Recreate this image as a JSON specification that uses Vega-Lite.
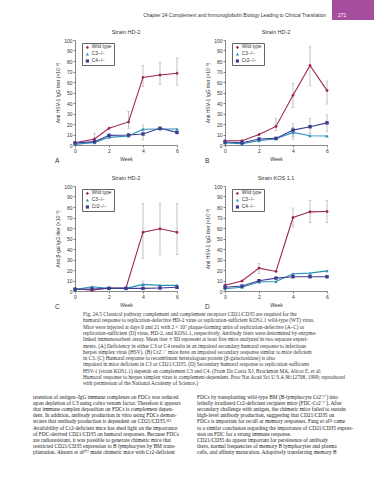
{
  "$schema": "https://vega.github.io/schema/vega-lite/v6.json",
  "padding": {"left": 33, "top": 0, "right": 0, "bottom": 0},
  "background": "white",
  "bounds": "flush",
  "spacing": 40,
  "resolve": {"scale": {"color": "independent", "shape": "independent"}, "legend": {"color": "independent", "shape": "independent"}},
  "config": {
    "view": {"stroke": null},
    "font": "Liberation Sans",
    "title": {"fontWeight": "normal", "color": "#222"},
    "axis": {"labelFontSize": 5, "titleFontSize": 5, "titleFontWeight": "normal", "tickSize": 2, "labelPadding": 1, "titlePadding": 3, "domainColor": "#555", "tickColor": "#555", "labelColor": "#333", "titleColor": "#333", "grid": false, "domainWidth": 0.7, "tickWidth": 0.7, "labelOverlap": false, "labelFlush": false, "labelBound": false},
    "legend": {"labelFontSize": 4.8, "labelColor": "#333", "symbolSize": 10, "rowPadding": 0.8, "padding": 2, "strokeColor": "#666", "fillColor": "white", "symbolStrokeWidth": 0, "labelOffset": 2, "symbolOffset": 1}
  },
  "datasets": {
    "A": [
      {"w": 0, "g": "Wild type", "v": 2.2},
      {"w": 1.15, "g": "Wild type", "v": 5.7, "lo": 1, "hi": 11},
      {"w": 2, "g": "Wild type", "v": 15.9},
      {"w": 3.15, "g": "Wild type", "v": 22, "lo": 16, "hi": 32},
      {"w": 4, "g": "Wild type", "v": 64.4, "lo": 55.5, "hi": 75.5},
      {"w": 5, "g": "Wild type", "v": 66.7, "lo": 57.8, "hi": 78.7},
      {"w": 6, "g": "Wild type", "v": 68.3, "lo": 57, "hi": 83},
      {"w": 0, "g": "C3−/−", "v": 0.6},
      {"w": 1.15, "g": "C3−/−", "v": 2.5},
      {"w": 2, "g": "C3−/−", "v": 7.3},
      {"w": 3.15, "g": "C3−/−", "v": 8.6},
      {"w": 4, "g": "C3−/−", "v": 15},
      {"w": 5, "g": "C3−/−", "v": 15.2},
      {"w": 6, "g": "C3−/−", "v": 15.2},
      {"w": 0, "g": "C4−/−", "v": 1.9},
      {"w": 1.15, "g": "C4−/−", "v": 3.2},
      {"w": 2, "g": "C4−/−", "v": 9.2},
      {"w": 3.15, "g": "C4−/−", "v": 9.5},
      {"w": 4, "g": "C4−/−", "v": 10.5, "lo": 4.8, "hi": 19},
      {"w": 5, "g": "C4−/−", "v": 15.9},
      {"w": 6, "g": "C4−/−", "v": 12}
    ],
    "B": [
      {"w": 0, "g": "Wild type", "v": 4.1},
      {"w": 1, "g": "Wild type", "v": 4.1},
      {"w": 2, "g": "Wild type", "v": 10.1},
      {"w": 3, "g": "Wild type", "v": 17.7, "lo": 14, "hi": 25},
      {"w": 4, "g": "Wild type", "v": 47.3, "lo": 35.5, "hi": 58.4},
      {"w": 5, "g": "Wild type", "v": 75.7, "lo": 56.8, "hi": 93.5},
      {"w": 6, "g": "Wild type", "v": 52, "lo": 39, "hi": 61},
      {"w": 0, "g": "C3−/−", "v": 1.9},
      {"w": 1, "g": "C3−/−", "v": 1.3},
      {"w": 2, "g": "C3−/−", "v": 4.1},
      {"w": 3, "g": "C3−/−", "v": 6},
      {"w": 4, "g": "C3−/−", "v": 12, "lo": 5.5, "hi": 17},
      {"w": 5, "g": "C3−/−", "v": 8.8},
      {"w": 6, "g": "C3−/−", "v": 8.5},
      {"w": 0, "g": "Cr2−/−", "v": 2.8},
      {"w": 1, "g": "Cr2−/−", "v": 2.2},
      {"w": 2, "g": "Cr2−/−", "v": 5.7},
      {"w": 3, "g": "Cr2−/−", "v": 6.3},
      {"w": 4, "g": "Cr2−/−", "v": 14.2, "lo": 8, "hi": 20.5},
      {"w": 5, "g": "Cr2−/−", "v": 17.4, "lo": 11, "hi": 25},
      {"w": 6, "g": "Cr2−/−", "v": 21.1, "lo": 12.6, "hi": 29}
    ],
    "C": [
      {"w": 0, "g": "Wild type", "v": 2.2},
      {"w": 1, "g": "Wild type", "v": 0.8},
      {"w": 2, "g": "Wild type", "v": 2.9},
      {"w": 3, "g": "Wild type", "v": 2.9},
      {"w": 4, "g": "Wild type", "v": 56, "lo": 30.7, "hi": 83.6},
      {"w": 5, "g": "Wild type", "v": 59.3, "lo": 34.5, "hi": 83.6},
      {"w": 6, "g": "Wild type", "v": 56, "lo": 34.5, "hi": 83.6},
      {"w": 0, "g": "C3−/−", "v": 1.3},
      {"w": 1, "g": "C3−/−", "v": 4.1},
      {"w": 2, "g": "C3−/−", "v": 2.5},
      {"w": 3, "g": "C3−/−", "v": 2.5},
      {"w": 4, "g": "C3−/−", "v": 6.3, "lo": 3, "hi": 9.5},
      {"w": 5, "g": "C3−/−", "v": 5.4},
      {"w": 6, "g": "C3−/−", "v": 5.4},
      {"w": 0, "g": "Cr2−/−", "v": 1.6},
      {"w": 1, "g": "Cr2−/−", "v": 1.9},
      {"w": 2, "g": "Cr2−/−", "v": 2.5},
      {"w": 3, "g": "Cr2−/−", "v": 2.5},
      {"w": 4, "g": "Cr2−/−", "v": 2.5},
      {"w": 5, "g": "Cr2−/−", "v": 2.9},
      {"w": 6, "g": "Cr2−/−", "v": 3.5}
    ],
    "D": [
      {"w": 0, "g": "Wild type", "v": 5.4},
      {"w": 1, "g": "Wild type", "v": 9.5},
      {"w": 2, "g": "Wild type", "v": 21.8, "lo": 16.4, "hi": 26},
      {"w": 3, "g": "Wild type", "v": 18.6},
      {"w": 4, "g": "Wild type", "v": 70, "lo": 61, "hi": 79},
      {"w": 5, "g": "Wild type", "v": 75.4, "lo": 65, "hi": 86},
      {"w": 6, "g": "Wild type", "v": 75.7, "lo": 65, "hi": 86},
      {"w": 0, "g": "C3−/−", "v": 2.2},
      {"w": 1, "g": "C3−/−", "v": 3.5},
      {"w": 2, "g": "C3−/−", "v": 8.5},
      {"w": 3, "g": "C3−/−", "v": 9.1},
      {"w": 4, "g": "C3−/−", "v": 16.4},
      {"w": 5, "g": "C3−/−", "v": 17},
      {"w": 6, "g": "C3−/−", "v": 19.2},
      {"w": 0, "g": "C4−/−", "v": 3.5},
      {"w": 1, "g": "C4−/−", "v": 4.7},
      {"w": 2, "g": "C4−/−", "v": 9.8},
      {"w": 3, "g": "C4−/−", "v": 12.3},
      {"w": 4, "g": "C4−/−", "v": 13.6},
      {"w": 5, "g": "C4−/−", "v": 13.6},
      {"w": 6, "g": "C4−/−", "v": 13.6}
    ]
  },
  "vconcat": [
    {
      "hconcat": [
        {
          "width": 257, "height": 40,
          "data": {"values": [{}]},
          "mark": {"type": "text", "text": ""},
          "title": {"text": "Chapter 24   Complement and Immunoglobulin Biology Leading to Clinical Translation", "orient": "top", "anchor": "end", "frame": "group", "baseline": "alphabetic", "offset": 0, "dy": 22, "dx": -6, "fontSize": 4.9, "color": "#333", "font": "Liberation Sans"}
        },
        {
          "width": 42, "height": 20,
          "view": {"fill": "#a64d9e", "stroke": null},
          "data": {"values": [{}]},
          "mark": {"type": "text", "text": ""},
          "title": {"text": "271", "orient": "top", "anchor": "start", "frame": "group", "baseline": "alphabetic", "offset": 0, "dy": 22, "dx": 6, "fontSize": 5, "color": "white", "font": "Liberation Sans"}
        }
      ],
      "spacing": 0,
      "bounds": "flush"
    },
    {
      "vconcat": [
        {
          "hconcat": [
            {
              "title": {"text": "A", "orient": "bottom", "anchor": "start", "frame": "group", "dx": -20, "dy": -7, "fontSize": 6.5, "color": "#333"},
              "vconcat": [
                {
                  "width": 102, "height": 105,
                  "title": {"text": "Strain HD-2", "fontSize": 5.5, "anchor": "middle", "offset": 3, "color": "#333"},
                  "data": {"name": "A"},
                  "encoding": {
                    "x": {"field": "w", "type": "quantitative", "scale": {"domain": [0, 6], "nice": false}, "axis": {"values": [0, 2, 4, 6], "title": "Week"}}
                  },
                  "layer": [
                    {"transform": [{"filter": "datum.lo != null"}], "mark": {"type": "errorbar", "color": "#999", "thickness": 0.6, "ticks": {"size": 3, "color": "#999"}}, "encoding": {"y": {"field": "lo", "type": "quantitative", "scale": {"domain": [0, 100], "nice": false}, "axis": {"values": [0, 10, 20, 30, 40, 50, 60, 70, 80, 90, 100], "labelOverlap": false, "tickCount": 11}, "title": "Anti HSV-1 IgG titer (×10⁻³)"}, "y2": {"field": "hi"}}},
                    {"mark": {"type": "line", "strokeWidth": 1.1}, "encoding": {"y": {"field": "v", "type": "quantitative", "scale": {"domain": [0, 100], "nice": false}, "axis": {"values": [0, 10, 20, 30, 40, 50, 60, 70, 80, 90, 100], "labelOverlap": false, "tickCount": 11}, "title": "Anti HSV-1 IgG titer (×10⁻³)"}, "color": {"field": "g", "type": "nominal", "title": null, "scale": {"domain": ["Wild type", "C3−/−", "C4−/−"], "range": ["#9b2457", "#2a8fb8", "#3c3d8f"]}, "legend": {"orient": "none", "legendX": 7, "legendY": 3}}}},
                    {"mark": {"type": "point", "filled": true, "size": 12, "opacity": 1}, "encoding": {"y": {"field": "v", "type": "quantitative", "axis": {"values": [0, 10, 20, 30, 40, 50, 60, 70, 80, 90, 100], "labelOverlap": false, "tickCount": 11}, "title": "Anti HSV-1 IgG titer (×10⁻³)"}, "color": {"field": "g", "type": "nominal", "title": null, "scale": {"domain": ["Wild type", "C3−/−", "C4−/−"], "range": ["#9b2457", "#2a8fb8", "#3c3d8f"]}, "legend": {"orient": "none", "legendX": 7, "legendY": 3}}, "shape": {"field": "g", "type": "nominal", "title": null, "scale": {"domain": ["Wild type", "C3−/−", "C4−/−"], "range": ["diamond", "triangle-up", "square"]}, "legend": {"orient": "none", "legendX": 7, "legendY": 3}}}}
                  ]
                }
              ]
            },
            {
              "title": {"text": "B", "orient": "bottom", "anchor": "start", "frame": "group", "dx": -20, "dy": -7, "fontSize": 6.5, "color": "#333"},
              "vconcat": [
                {
                  "width": 102, "height": 105,
                  "title": {"text": "Strain HD-2", "fontSize": 5.5, "anchor": "middle", "offset": 3, "color": "#333"},
                  "data": {"name": "B"},
                  "encoding": {
                    "x": {"field": "w", "type": "quantitative", "scale": {"domain": [0, 6], "nice": false}, "axis": {"values": [0, 2, 4, 6], "title": "Week"}}
                  },
                  "layer": [
                    {"transform": [{"filter": "datum.lo != null"}], "mark": {"type": "errorbar", "color": "#999", "thickness": 0.6, "ticks": {"size": 3, "color": "#999"}}, "encoding": {"y": {"field": "lo", "type": "quantitative", "scale": {"domain": [0, 100], "nice": false}, "axis": {"values": [0, 10, 20, 30, 40, 50, 60, 70, 80, 90, 100], "labelOverlap": false, "tickCount": 11}, "title": "Anti HSV-1 IgG titer (×10⁻³)"}, "y2": {"field": "hi"}}},
                    {"mark": {"type": "line", "strokeWidth": 1.1}, "encoding": {"y": {"field": "v", "type": "quantitative", "scale": {"domain": [0, 100], "nice": false}, "axis": {"values": [0, 10, 20, 30, 40, 50, 60, 70, 80, 90, 100], "labelOverlap": false, "tickCount": 11}, "title": "Anti HSV-1 IgG titer (×10⁻³)"}, "color": {"field": "g", "type": "nominal", "title": null, "scale": {"domain": ["Wild type", "C3−/−", "Cr2−/−"], "range": ["#9b2457", "#2a8fb8", "#3c3d8f"]}, "legend": {"orient": "none", "legendX": 7, "legendY": 3}}}},
                    {"mark": {"type": "point", "filled": true, "size": 12, "opacity": 1}, "encoding": {"y": {"field": "v", "type": "quantitative", "axis": {"values": [0, 10, 20, 30, 40, 50, 60, 70, 80, 90, 100], "labelOverlap": false, "tickCount": 11}, "title": "Anti HSV-1 IgG titer (×10⁻³)"}, "color": {"field": "g", "type": "nominal", "title": null, "scale": {"domain": ["Wild type", "C3−/−", "Cr2−/−"], "range": ["#9b2457", "#2a8fb8", "#3c3d8f"]}, "legend": {"orient": "none", "legendX": 7, "legendY": 3}}, "shape": {"field": "g", "type": "nominal", "title": null, "scale": {"domain": ["Wild type", "C3−/−", "Cr2−/−"], "range": ["diamond", "triangle-up", "square"]}, "legend": {"orient": "none", "legendX": 7, "legendY": 3}}}}
                  ]
                }
              ]
            }
          ],
          "spacing": 150,
          "bounds": "flush",
          "resolve": {"scale": {"color": "independent", "shape": "independent"}, "legend": {"color": "independent", "shape": "independent"}}
        },
        {
          "hconcat": [
            {
              "title": {"text": "C", "orient": "bottom", "anchor": "start", "frame": "group", "dx": -20, "dy": -7, "fontSize": 6.5, "color": "#333"},
              "vconcat": [
                {
                  "width": 102, "height": 105,
                  "title": {"text": "Strain HD-2", "fontSize": 5.5, "anchor": "middle", "offset": 3, "color": "#333"},
                  "data": {"name": "C"},
                  "encoding": {
                    "x": {"field": "w", "type": "quantitative", "scale": {"domain": [0, 6], "nice": false}, "axis": {"values": [0, 2, 4, 6], "title": "Week"}}
                  },
                  "layer": [
                    {"transform": [{"filter": "datum.lo != null"}], "mark": {"type": "errorbar", "color": "#999", "thickness": 0.6, "ticks": {"size": 3, "color": "#999"}}, "encoding": {"y": {"field": "lo", "type": "quantitative", "scale": {"domain": [0, 100], "nice": false}, "axis": {"values": [0, 10, 20, 30, 40, 50, 60, 70, 80, 90, 100], "labelOverlap": false, "tickCount": 11}, "title": "Anti β-gal IgG titer (×10⁻³)"}, "y2": {"field": "hi"}}},
                    {"mark": {"type": "line", "strokeWidth": 1.1}, "encoding": {"y": {"field": "v", "type": "quantitative", "scale": {"domain": [0, 100], "nice": false}, "axis": {"values": [0, 10, 20, 30, 40, 50, 60, 70, 80, 90, 100], "labelOverlap": false, "tickCount": 11}, "title": "Anti β-gal IgG titer (×10⁻³)"}, "color": {"field": "g", "type": "nominal", "title": null, "scale": {"domain": ["Wild type", "C3−/−", "Cr2−/−"], "range": ["#9b2457", "#2a8fb8", "#3c3d8f"]}, "legend": {"orient": "none", "legendX": 7, "legendY": 3}}}},
                    {"mark": {"type": "point", "filled": true, "size": 12, "opacity": 1}, "encoding": {"y": {"field": "v", "type": "quantitative", "axis": {"values": [0, 10, 20, 30, 40, 50, 60, 70, 80, 90, 100], "labelOverlap": false, "tickCount": 11}, "title": "Anti β-gal IgG titer (×10⁻³)"}, "color": {"field": "g", "type": "nominal", "title": null, "scale": {"domain": ["Wild type", "C3−/−", "Cr2−/−"], "range": ["#9b2457", "#2a8fb8", "#3c3d8f"]}, "legend": {"orient": "none", "legendX": 7, "legendY": 3}}, "shape": {"field": "g", "type": "nominal", "title": null, "scale": {"domain": ["Wild type", "C3−/−", "Cr2−/−"], "range": ["diamond", "triangle-up", "square"]}, "legend": {"orient": "none", "legendX": 7, "legendY": 3}}}}
                  ]
                }
              ]
            },
            {
              "title": {"text": "D", "orient": "bottom", "anchor": "start", "frame": "group", "dx": -20, "dy": -7, "fontSize": 6.5, "color": "#333"},
              "vconcat": [
                {
                  "width": 102, "height": 105,
                  "title": {"text": "Strain KOS 1.1", "fontSize": 5.5, "anchor": "middle", "offset": 3, "color": "#333"},
                  "data": {"name": "D"},
                  "encoding": {
                    "x": {"field": "w", "type": "quantitative", "scale": {"domain": [0, 6], "nice": false}, "axis": {"values": [0, 2, 4, 6], "title": "Week"}}
                  },
                  "layer": [
                    {"transform": [{"filter": "datum.lo != null"}], "mark": {"type": "errorbar", "color": "#999", "thickness": 0.6, "ticks": {"size": 3, "color": "#999"}}, "encoding": {"y": {"field": "lo", "type": "quantitative", "scale": {"domain": [0, 100], "nice": false}, "axis": {"values": [0, 10, 20, 30, 40, 50, 60, 70, 80, 90, 100], "labelOverlap": false, "tickCount": 11}, "title": "Anti HSV-1 IgG titer (×10⁻³)"}, "y2": {"field": "hi"}}},
                    {"mark": {"type": "line", "strokeWidth": 1.1}, "encoding": {"y": {"field": "v", "type": "quantitative", "scale": {"domain": [0, 100], "nice": false}, "axis": {"values": [0, 10, 20, 30, 40, 50, 60, 70, 80, 90, 100], "labelOverlap": false, "tickCount": 11}, "title": "Anti HSV-1 IgG titer (×10⁻³)"}, "color": {"field": "g", "type": "nominal", "title": null, "scale": {"domain": ["Wild type", "C3−/−", "C4−/−"], "range": ["#9b2457", "#2a8fb8", "#3c3d8f"]}, "legend": {"orient": "none", "legendX": 7, "legendY": 3}}}},
                    {"mark": {"type": "point", "filled": true, "size": 12, "opacity": 1}, "encoding": {"y": {"field": "v", "type": "quantitative", "axis": {"values": [0, 10, 20, 30, 40, 50, 60, 70, 80, 90, 100], "labelOverlap": false, "tickCount": 11}, "title": "Anti HSV-1 IgG titer (×10⁻³)"}, "color": {"field": "g", "type": "nominal", "title": null, "scale": {"domain": ["Wild type", "C3−/−", "C4−/−"], "range": ["#9b2457", "#2a8fb8", "#3c3d8f"]}, "legend": {"orient": "none", "legendX": 7, "legendY": 3}}, "shape": {"field": "g", "type": "nominal", "title": null, "scale": {"domain": ["Wild type", "C3−/−", "C4−/−"], "range": ["diamond", "triangle-up", "square"]}, "legend": {"orient": "none", "legendX": 7, "legendY": 3}}}}
                  ]
                }
              ]
            }
          ],
          "spacing": 150,
          "bounds": "flush",
          "resolve": {"scale": {"color": "independent", "shape": "independent"}, "legend": {"color": "independent", "shape": "independent"}}
        }
      ],
      "spacing": 146,
      "bounds": "flush",
      "resolve": {"scale": {"color": "independent", "shape": "independent"}, "legend": {"color": "independent", "shape": "independent"}}
    },
    {
      "width": 270, "height": 231,
      "data": {"values": [{}]},
      "mark": {"type": "text", "text": ""},
      "title": {
        "text": [
          "Fig. 24.5  Classical pathway complement and complement receptors CD21/CD35 are required for the",
          "humoral response to replication-defective HD-2 virus or replication-sufficient KOS1.1 wild-type (WT) virus.",
          "Mice were injected at days 0 and 21 with 2 × 10⁷ plaque-forming units of replication-defective (A–C) or",
          "replication-sufficient (D) virus, HD-2, and KOS1.1, respectively. Antibody titers were determined by enzyme-",
          "linked immunosorbent assay. Mean titer ± SD represent at least five mice analyzed in two separate experi-",
          "ments. (A) Deficiency in either C3 or C4 results in an impaired secondary humoral response to infectious",
          "herpes simplex virus (HSV). (B) Cr2⁻/⁻ mice have an impaired secondary response similar to mice deficient",
          "in C3. (C) Humoral response to recombinant heterologous protein (β-galactosidase) is also",
          "impaired in mice deficient in C3 or CD21/CD35. (D) Secondary humoral response to replication-sufficient",
          "HSV-1 (strain KOS1.1) depends on complement C3 and C4. (From Da Costa XJ, Brockman MA, Alicot E, et al:",
          "Humoral response to herpes simplex virus is complement-dependent. Proc Nat Acad Sci U S A 96:12708, 1999; reproduced",
          "with permission of the National Academy of Science.)"
        ],
        "orient": "bottom", "anchor": "start", "frame": "group", "baseline": "top", "offset": 1, "dx": 8,
        "fontSize": 5.3, "lineHeight": 6.3, "font": "Liberation Serif", "color": "#333"
      }
    },
    {
      "hconcat": [
        {
          "width": 122, "height": 44,
          "data": {"values": [{}]},
          "mark": {"type": "text", "text": ""},
          "title": {
            "text": [
              "retention of antigen–IgG immune complexes on FDCs was reduced",
              "upon depletion of C3 using cobra venom factor. Therefore it appears",
              "that immune complex deposition on FDCs is complement depen-",
              "dent. In addition, antibody production in vitro using FDCs demon-",
              "strates that antibody production is dependent on CD21/CD35.¹¹³",
              "   Availability of Cr2-deficient mice has shed light on the importance",
              "of FDC-derived CD21/CD35 on humoral responses. Because FDCs",
              "are radioresistant, it was possible to generate chimeric mice that",
              "restricted CD21/CD35 expression to B lymphocytes by BM trans-",
              "plantation. Ahearn et al¹⁰⁷ made chimeric mice with Cr2-deficient"
            ],
            "orient": "bottom", "anchor": "start", "frame": "group", "baseline": "top", "offset": 0, "dx": -42,
            "fontSize": 5.4, "lineHeight": 6.1, "font": "Liberation Serif", "color": "#222"
          }
        },
        {
          "width": 155, "height": 44,
          "data": {"values": [{}]},
          "mark": {"type": "text", "text": ""},
          "title": {
            "text": [
              "FDCs by transplanting wild-type BM (B-lymphocyte Cr2⁺/⁺) into",
              "lethally irradiated Cr2-deficient recipient mice (FDC-Cr2⁻/⁻). After",
              "secondary challenge with antigen, the chimeric mice failed to sustain",
              "high-level antibody production, suggesting that CD21/CD35 on",
              "FDCs is important for recall or memory responses. Fang et al¹¹ came",
              "to a similar conclusion regarding the importance of CD21/CD35 expres-",
              "sion on FDC for a strong immune response.",
              "   CD21/CD35 do appear important for persistence of antibody",
              "titers, normal frequencies of memory B lymphocytes and plasma",
              "cells, and affinity maturation. Adoptively transferring memory B"
            ],
            "orient": "bottom", "anchor": "start", "frame": "group", "baseline": "top", "offset": 0, "dx": 0,
            "fontSize": 5.4, "lineHeight": 6.1, "font": "Liberation Serif", "color": "#222"
          }
        }
      ],
      "spacing": 0,
      "bounds": "flush"
    }
  ]
}
